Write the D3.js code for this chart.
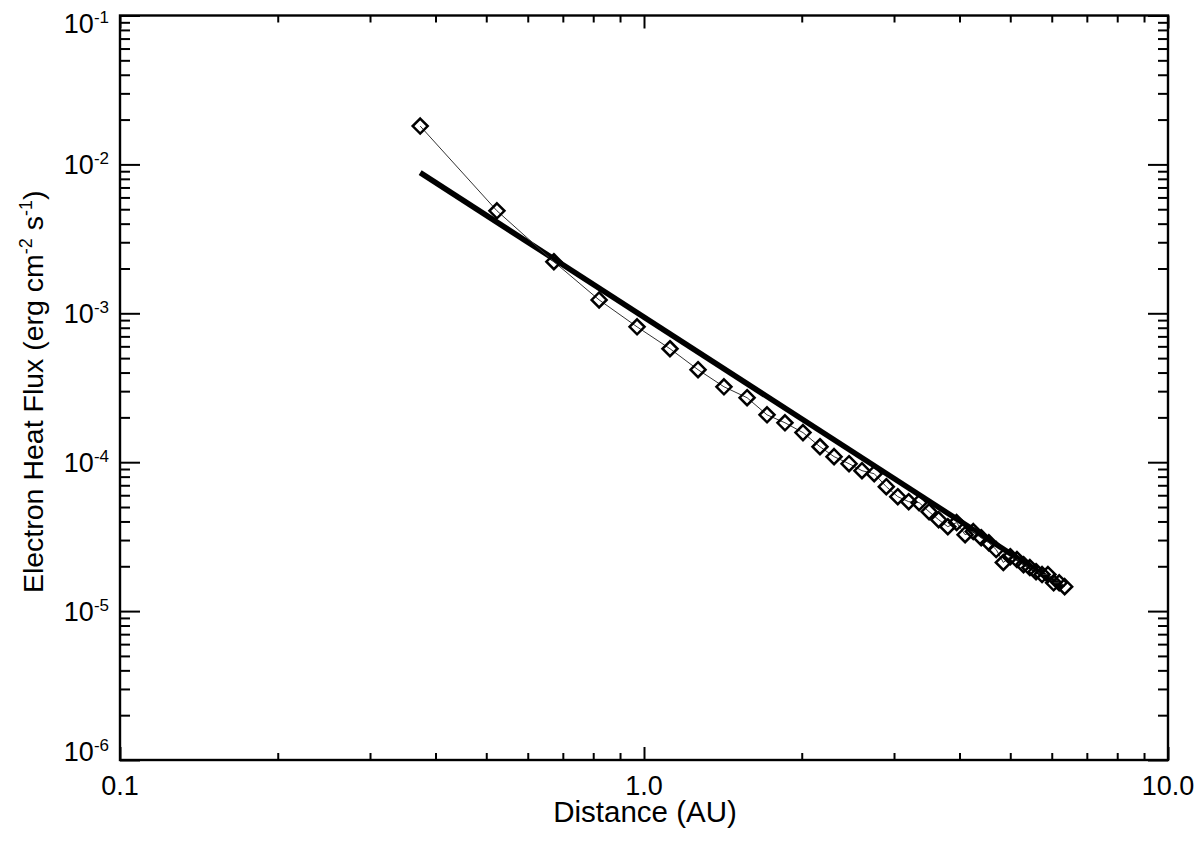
<!DOCTYPE html>
<html>
<head>
<meta charset="utf-8">
<script src="https://cdn.jsdelivr.net/npm/d3@7"></script>
<style>
  html, body { margin: 0; padding: 0; background: #fff; }
  svg { display: block; }
  text { font-family: "Liberation Sans", Arial, Helvetica, sans-serif; fill: #000; }
</style>
</head>
<body>
<svg id="chart" width="1200" height="842"></svg>
<script>
// ---- data ----
const distanceAU = [0.374, 0.524, 0.673, 0.821, 0.970, 1.121, 1.268, 1.421, 1.573, 1.717,
  1.858, 2.011, 2.167, 2.305, 2.462, 2.606, 2.75, 2.90, 3.05, 3.20,
  3.35, 3.50, 3.65, 3.80, 3.95, 4.10, 4.25, 4.40, 4.55, 4.70,
  4.85, 5.00, 5.15, 5.30, 5.45, 5.60, 5.75, 5.90, 6.05, 6.20, 6.35];
const heatFlux = [1.81e-2, 4.88e-3, 2.22e-3, 1.23e-3, 8.11e-4, 5.78e-4, 4.18e-4, 3.21e-4, 2.71e-4, 2.08e-4,
  1.84e-4, 1.58e-4, 1.27e-4, 1.09e-4, 9.77e-5, 8.77e-5, 8.37e-5, 6.85e-5, 5.87e-5, 5.43e-5,
  5.35e-5, 4.65e-5, 4.11e-5, 3.69e-5, 3.93e-5, 3.26e-5, 3.42e-5, 3.11e-5, 2.88e-5, 2.59e-5,
  2.12e-5, 2.32e-5, 2.22e-5, 2.05e-5, 1.96e-5, 1.84e-5, 1.76e-5, 1.76e-5, 1.55e-5, 1.55e-5, 1.46e-5];
const fitDistance = [0.374, 6.30];
const fitFlux = [8.8e-3, 1.44e-5];
const xMajorTicks = [0.1, 1, 10];
const xTickLabels = ["0.1", "1.0", "10.0"];
const yMajorTicks = [1e-1, 1e-2, 1e-3, 1e-4, 1e-5, 1e-6];
const yTickExponents = ["-1", "-2", "-3", "-4", "-5", "-6"];
const xTitle = "Distance (AU)";

// ---- layout ----
const L = 120, R = 1168, T = 15.5, B = 760;
const svg = d3.select("#chart");
const x = d3.scaleLog().domain([0.1, 10]).range([L, R]);
const y = d3.scaleLog().domain([1e-6, 1e-1]).range([B, T]);

const xMinor = x.ticks().filter(v => !xMajorTicks.some(m => Math.abs(m - v) < 1e-9));
const yMinor = y.ticks().filter(v => !yMajorTicks.some(m => Math.abs(m - v) / m < 1e-6));

function styleAxis(g) {
  g.select(".domain").remove();
  g.selectAll(".tick line").attr("stroke", "#000").attr("stroke-width", 2);
  g.selectAll(".tick text").remove();
}
// bottom & top
svg.append("g").attr("transform", `translate(0,${B})`)
  .call(d3.axisBottom(x).tickValues(xMinor).tickSize(-7).tickFormat("")).call(styleAxis);
svg.append("g").attr("transform", `translate(0,${B})`)
  .call(d3.axisBottom(x).tickValues(xMajorTicks).tickSize(-13).tickFormat("")).call(styleAxis);
svg.append("g").attr("transform", `translate(0,${T})`)
  .call(d3.axisTop(x).tickValues(xMinor).tickSize(-7).tickFormat("")).call(styleAxis);
svg.append("g").attr("transform", `translate(0,${T})`)
  .call(d3.axisTop(x).tickValues(xMajorTicks).tickSize(-13).tickFormat("")).call(styleAxis);
// left & right
svg.append("g").attr("transform", `translate(${L},0)`)
  .call(d3.axisLeft(y).tickValues(yMinor).tickSize(-10).tickFormat("")).call(styleAxis);
svg.append("g").attr("transform", `translate(${L},0)`)
  .call(d3.axisLeft(y).tickValues(yMajorTicks).tickSize(-20).tickFormat("")).call(styleAxis);
svg.append("g").attr("transform", `translate(${R},0)`)
  .call(d3.axisRight(y).tickValues(yMinor).tickSize(-10).tickFormat("")).call(styleAxis);
svg.append("g").attr("transform", `translate(${R},0)`)
  .call(d3.axisRight(y).tickValues(yMajorTicks).tickSize(-20).tickFormat("")).call(styleAxis);

// frame
svg.append("rect").attr("x", L).attr("y", T).attr("width", R - L).attr("height", B - T)
  .attr("fill", "none").attr("stroke", "#000").attr("stroke-width", 2.4);

// x tick labels
svg.append("g").selectAll("text").data(xMajorTicks).join("text")
  .attr("x", d => x(d)).attr("y", B + 35).attr("text-anchor", "middle")
  .attr("font-size", 27).text((d, i) => xTickLabels[i]);

// y tick labels with superscript exponents (kept inside the frame's vertical extent)
const yl = svg.append("g").selectAll("text").data(yMajorTicks).join("text")
  .attr("x", L - 11)
  .attr("y", d => Math.max(T + 17.5, Math.min(B + 1, y(d) + 9.5)))
  .attr("text-anchor", "end").attr("font-size", 27);
yl.append("tspan").text("10");
yl.append("tspan").attr("dy", -10).attr("font-size", 17).text((d, i) => yTickExponents[i]);

// axis titles
svg.append("text").attr("x", (L + R) / 2 + 1).attr("y", 822).attr("text-anchor", "middle")
  .attr("font-size", 29.5).text(xTitle);
const yt = svg.append("text").attr("transform", `translate(43,${(T + B) / 2 + 4}) rotate(-90)`)
  .attr("text-anchor", "middle").attr("font-size", 28.5);
yt.append("tspan").text("Electron Heat Flux (erg cm");
yt.append("tspan").attr("dy", -11).attr("font-size", 18).text("-2");
yt.append("tspan").attr("dy", 11).text(" s");
yt.append("tspan").attr("dy", -11).attr("font-size", 18).text("-1");
yt.append("tspan").attr("dy", 11).text(")");

// fit line (thick)
svg.append("path").datum(fitDistance.map((d, i) => [d, fitFlux[i]]))
  .attr("d", d3.line().x(d => x(d[0])).y(d => y(d[1])))
  .attr("fill", "none").attr("stroke", "#000").attr("stroke-width", 5.5);

// data connecting line (thin)
const pts = distanceAU.map((d, i) => [d, heatFlux[i]]);
svg.append("path").datum(pts)
  .attr("d", d3.line().x(d => x(d[0])).y(d => y(d[1])))
  .attr("fill", "none").attr("stroke", "#333").attr("stroke-width", 1);

// diamonds
const r = 7.5;
svg.append("g").selectAll("path").data(pts).join("path")
  .attr("transform", d => `translate(${x(d[0])},${y(d[1])})`)
  .attr("d", `M0,${-r}L${r},0L0,${r}L${-r},0Z`)
  .attr("fill", "none").attr("stroke", "#000").attr("stroke-width", 2.5);
</script>
</body>
</html>
